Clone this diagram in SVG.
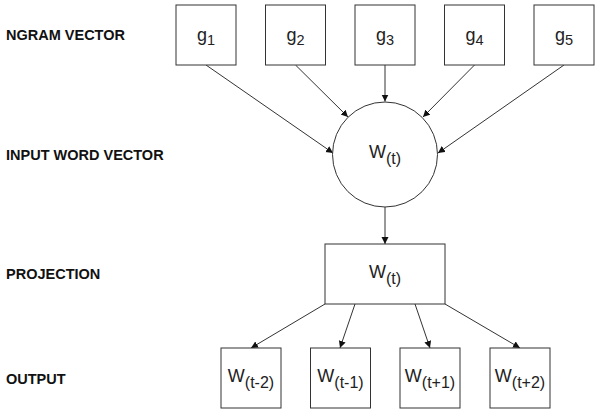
<svg xmlns="http://www.w3.org/2000/svg" width="600" height="414" viewBox="0 0 600 414">
<style>
.lbl{font-family:"Liberation Sans",Arial,sans-serif;font-weight:bold;font-size:14.5px;fill:#111}
.node{fill:#fff;stroke:#333;stroke-width:1}
.t{font-family:"Liberation Sans",Arial,sans-serif;font-size:18px;fill:#222;text-anchor:middle}
.s{font-size:16px}
.d{font-size:14.5px}
.edge{stroke:#333;stroke-width:1;fill:none;marker-end:url(#arr)}
</style>
<defs>
<marker id="arr" markerWidth="8" markerHeight="8" refX="7" refY="3.5" orient="auto" markerUnits="userSpaceOnUse">
<path d="M0,0 L7,3.5 L0,7 z" fill="#111"/>
</marker>
</defs>
<rect width="600" height="414" fill="#fff"/>
<g id="labels">
<text class="lbl" x="6" y="40">NGRAM VECTOR</text>
<text class="lbl" x="6" y="160">INPUT WORD VECTOR</text>
<text class="lbl" x="6" y="279">PROJECTION</text>
<text class="lbl" x="6" y="384">OUTPUT</text>
</g>
<g id="connectors">
<line class="edge" x1="206" y1="65" x2="333" y2="153"/>
<line class="edge" x1="295.5" y1="65" x2="348" y2="117"/>
<line class="edge" x1="385" y1="65" x2="385" y2="101.5"/>
<line class="edge" x1="474.5" y1="65" x2="423" y2="117"/>
<line class="edge" x1="564" y1="65" x2="438" y2="153"/>
<line class="edge" x1="385" y1="207" x2="385" y2="244"/>
<line class="edge" x1="325" y1="304" x2="251" y2="348"/>
<line class="edge" x1="355" y1="304" x2="340" y2="348"/>
<line class="edge" x1="415" y1="304" x2="430" y2="348"/>
<line class="edge" x1="445" y1="304" x2="520" y2="348"/>
</g>
<g id="g1"><rect class="node" x="176" y="5" width="60" height="60"/><text class="t" x="206" y="40.5">g<tspan class="d" dy="4">1</tspan></text></g>
<g id="g2"><rect class="node" x="265.5" y="5" width="60" height="60"/><text class="t" x="295.5" y="40.5">g<tspan class="d" dy="4">2</tspan></text></g>
<g id="g3"><rect class="node" x="355" y="5" width="60" height="60"/><text class="t" x="385" y="40.5">g<tspan class="d" dy="4">3</tspan></text></g>
<g id="g4"><rect class="node" x="444.5" y="5" width="60" height="60"/><text class="t" x="474.5" y="40.5">g<tspan class="d" dy="4">4</tspan></text></g>
<g id="g5"><rect class="node" x="534" y="5" width="60" height="60"/><text class="t" x="564" y="40.5">g<tspan class="d" dy="4">5</tspan></text></g>
<g id="input"><circle class="node" cx="385" cy="154.5" r="52.5"/><text class="t" x="385" y="158">W<tspan class="s" dy="6">(t)</tspan></text></g>
<g id="projection"><rect class="node" x="325" y="244" width="120" height="60"/><text class="t" x="385" y="278">W<tspan class="s" dy="6">(t)</tspan></text></g>
<g id="out1"><rect class="node" x="221" y="348" width="60" height="60"/><text class="t" x="251" y="382">W<tspan class="s" dy="6">(t-2)</tspan></text></g>
<g id="out2"><rect class="node" x="310.5" y="348" width="60" height="60"/><text class="t" x="340.5" y="382">W<tspan class="s" dy="6">(t-1)</tspan></text></g>
<g id="out3"><rect class="node" x="400" y="348" width="60" height="60"/><text class="t" x="430" y="382">W<tspan class="s" dy="6">(t+1)</tspan></text></g>
<g id="out4"><rect class="node" x="490" y="348" width="60" height="60"/><text class="t" x="520" y="382">W<tspan class="s" dy="6">(t+2)</tspan></text></g>
</svg>
